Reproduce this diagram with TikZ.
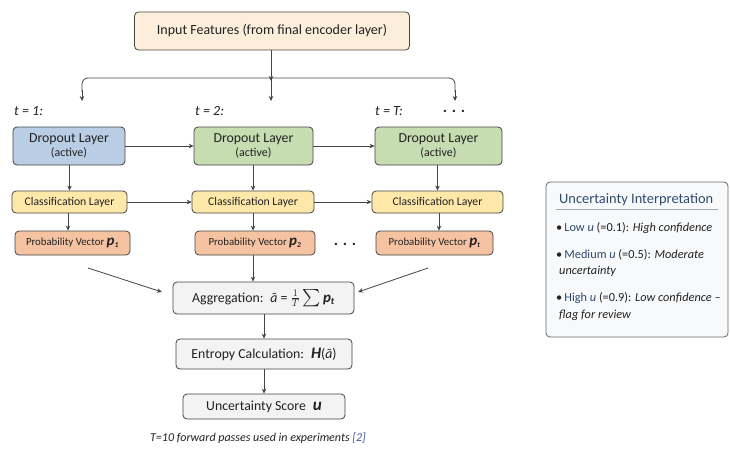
\documentclass[tikz,border=0pt]{standalone}
\usepackage{amsmath}
\usepackage{fontspec}
\setmainfont{Carlito}
\usetikzlibrary{arrows.meta,positioning,calc}
\definecolor{edge}{HTML}{444444}
\definecolor{inputfill}{HTML}{FCEEDA}
\definecolor{bluefill}{HTML}{B9CDE5}
\definecolor{greenfill}{HTML}{C6DDB2}
\definecolor{yellowfill}{HTML}{FDE8AA}
\definecolor{salmonfill}{HTML}{F5C3A2}
\definecolor{grayfill}{HTML}{F3F3F3}
\definecolor{panelfill}{HTML}{F8F9FB}
\definecolor{titleblue}{HTML}{2E4A6E}
\definecolor{txt}{HTML}{222222}
\definecolor{refblue}{HTML}{3D5A9E}
\tikzset{
  box/.style={draw=edge, line width=0.8pt, rounded corners=4pt, align=center, inner sep=1pt, text=txt},
  inbox/.style={box, fill=inputfill, minimum width=275pt, minimum height=38pt, font=\fontsize{14}{16}\selectfont},
  dropbox/.style={box, minimum height=38pt, font=\fontsize{13.8}{14}\selectfont},
  classbox/.style={box, fill=yellowfill, minimum height=22pt, font=\fontsize{11.7}{13}\selectfont},
  probbox/.style={box, fill=salmonfill, minimum height=24pt, font=\fontsize{10.8}{12}\selectfont},
  graybox/.style={box, fill=grayfill, font=\fontsize{13.8}{15}\selectfont},
  arr/.style={draw=edge, line width=0.8pt, -{Stealth[length=5pt,width=4.5pt]}},
  tlabel/.style={anchor=west, font=\fontsize{14}{16}\selectfont\itshape, text=txt, inner sep=0pt},
  pline/.style={anchor=west, font=\fontsize{12.3}{14}\selectfont, text=txt, inner sep=0pt},
  dots/.style={font=\fontsize{16}{16}\selectfont\bfseries, text=txt, inner sep=0pt},
}
\newcommand{\pv}[1]{{\fontsize{15}{15}\selectfont\bfseries\itshape p}\textsubscript{\bfseries\itshape #1}}
\begin{document}
\begin{tikzpicture}[x=1pt,y=-1pt]
\useasboundingbox (0,0) rectangle (730,460);
\fill[white] (0,0) rectangle (730,460);

% input
\node[inbox] (in) at (272,31) {Input Features (from final encoder layer)};
\coordinate (j) at (271,81);
\coordinate (bl) at (82,101);
\coordinate (bm) at (271,101);
\coordinate (br) at (455,101);
\draw[arr] (in.south -| j) -- (j);
\draw[draw=edge, line width=0.8pt, rounded corners=6pt] (82,92) -- (82,78) -- (455,78) -- (455,92);
\draw[arr] (82,90) -- (bl);
\draw[arr] (271,78) -- (bm);
\draw[arr] (455,90) -- (br);

% t labels
\node[tlabel] (t1) at (14,111) {t = 1:};
\node[tlabel] (t2) at (195,111) {t = 2:};
\node[tlabel] (tT) at (375,111) {t = T:};
\node[dots] (dd) at (454,111) {. . .};

% dropout
\node[dropbox, fill=bluefill, minimum width=112pt] (d1) at (69,146) {Dropout Layer\\{\fontsize{12}{13}\selectfont (active)}};
\node[dropbox, fill=greenfill, minimum width=119pt] (d2) at (253.5,146) {Dropout Layer\\{\fontsize{12}{13}\selectfont (active)}};
\node[dropbox, fill=greenfill, minimum width=127pt] (d3) at (438.5,146) {Dropout Layer\\{\fontsize{12}{13}\selectfont (active)}};
\draw[arr] (d1) -- (d2);
\draw[arr] (d2) -- (d3);

% classification
\node[classbox, minimum width=115pt] (c1) at (69.5,202) {Classification Layer};
\node[classbox, minimum width=122pt] (c2) at (253,202) {Classification Layer};
\node[classbox, minimum width=131pt] (c3) at (437.5,202) {Classification Layer};
\draw[arr] (d1.south -| c1) -- (c1);
\draw[arr] (d2.south -| c2) -- (c2);
\draw[arr] (d3.south -| c3) -- (c3);
\draw[arr] (c1) -- (c2);
\draw[arr] (c2) -- (c3);

% probability
\node[probbox, minimum width=115pt] (p1) at (72.5,243) {Probability Vector \pv{1}};
\node[probbox, minimum width=120pt] (p2) at (255,243) {Probability Vector \pv{2}};
\node[probbox, minimum width=117pt] (p3) at (434.5,243) {Probability Vector \pv{t}};
\node[dots] (pd) at (345,244) {. . .};
\draw[arr] (c1.south -| 68,0) -- (p1.north -| 68,0);
\draw[arr] (c2.south -| 253,0) -- (p2.north -| 253,0);
\draw[arr] (c3.south -| 439,0) -- (p3.north -| 439,0);

% aggregation chain
\node[graybox, minimum width=181pt, minimum height=32pt] (agg) at (263.5,298)
  {Aggregation:\enspace \textit{ã} = $\tfrac{1}{T}$\,{\fontsize{17}{17}\selectfont$\sum$}\,\pv{t}};
\node[graybox, minimum width=176pt, minimum height=30pt] (ent) at (264,354)
  {Entropy Calculation:\enspace {\fontsize{16}{16}\selectfont\bfseries\itshape H}(\textit{ã})};
\node[graybox, minimum width=162pt, minimum height=25pt] (unc) at (264,406.5)
  {Uncertainty Score\enspace {\fontsize{17}{17}\selectfont\bfseries\itshape u}};
\coordinate (s1) at (88,268);
\coordinate (s3) at (428,268);
\draw[arr] (s1) -- (162,292);
\draw[arr] (p2.south -| 253,0) -- (agg.north -| 253,0);
\draw[arr] (s3) -- (358,292);
\draw[arr] (agg.south -| 264,0) -- (ent.north -| 264,0);
\draw[arr] (ent) -- (unc);

% footnote
\node[font=\fontsize{12}{14}\selectfont\itshape, text=txt] (fn) at (258,438) {T=10 forward passes used in experiments \textcolor{refblue}{[2]}};

% right panel
\node[draw=edge!80, line width=0.8pt, fill=panelfill, rounded corners=4pt, minimum width=182pt, minimum height=155pt] (panel) at (637,259.5) {};
\node[anchor=west, font=\fontsize{14.4}{16}\selectfont, text=titleblue, inner sep=0pt] (ptitle) at (559,200) {Uncertainty Interpretation};
\draw[draw=gray!70, line width=0.6pt] (556,209) -- (718,209);
\node[pline] (i1) at (556,228) {\textbullet\,\textcolor{titleblue}{Low \textit{u}} (=0.1): \textit{High confidence}};
\node[pline] (i2) at (556,255) {\textbullet\,\textcolor{titleblue}{Medium \textit{u}} (=0.5): \textit{Moderate}};
\node[pline] (i2b) at (559,271) {\textit{uncertainty}};
\node[pline] (i3) at (556,298) {\textbullet\,\textcolor{titleblue}{High \textit{u}} (=0.9): \textit{Low confidence –}};
\node[pline] (i3b) at (559,315) {\textit{flag for review}};
\end{tikzpicture}
\end{document}
